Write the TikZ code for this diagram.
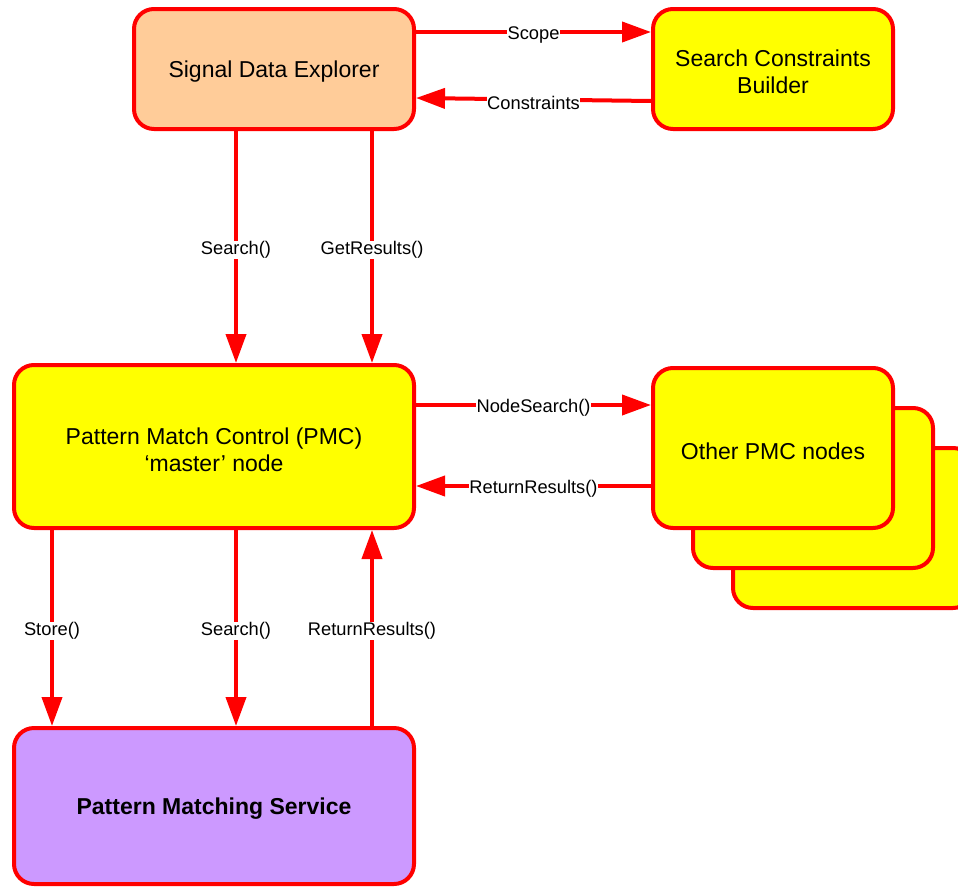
\documentclass[tikz,border=0pt]{standalone}
\usepackage{fontspec}
\setmainfont{Liberation Sans}
\usetikzlibrary{arrows.meta}
\definecolor{linered}{HTML}{FF0000}
\definecolor{peach}{HTML}{FFCC99}
\definecolor{boxyellow}{HTML}{FFFF00}
\definecolor{lilac}{HTML}{CC99FF}
\begin{document}
\begin{tikzpicture}[x=1pt,y=-1pt,
  box/.style={draw=linered, line width=4pt, rounded corners=20pt, inner sep=0pt},
  boxtext/.style={align=center, inner sep=0pt, font=\fontsize{23}{27}\selectfont},
  flow/.style={draw=linered, line width=4pt, -{Triangle[length=29pt,width=20pt]}},
  lbl/.style={fill=white, inner sep=0.6pt, yshift=-3pt, text=black, font=\fontsize{18.3}{20}\selectfont}]
\clip (0,0) rectangle (958,886);
\useasboundingbox (0,0) rectangle (958,886);

% top row
\node[box, fill=peach, minimum width=280pt, minimum height=120pt] (sde) at (274,69) {};
\node[boxtext] (sdet) at ([yshift=-3pt]sde.center) {Signal Data Explorer};
\node[box, fill=boxyellow, minimum width=240pt, minimum height=120pt] (scb) at (773,69) {};
\node[boxtext] (scbt) at ([yshift=-3pt]scb.center) {Search Constraints\\Builder};

% control node
\node[box, fill=boxyellow, minimum width=400pt, minimum height=163pt] (pmc) at (214,446.5) {};
\node[boxtext] (pmct) at ([yshift=-3pt]pmc.center) {Pattern Match Control (PMC)\\`master' node};

% stack of other PMC nodes, back to front
\node[box, fill=boxyellow, minimum width=240pt, minimum height=160pt] (oth3) at (853,528) {};
\node[box, fill=boxyellow, minimum width=240pt, minimum height=160pt] (oth2) at (813,488) {};
\node[box, fill=boxyellow, minimum width=240pt, minimum height=160pt] (oth) at (773,448) {};
\node[boxtext] (otht) at ([yshift=-3pt]oth.center) {Other PMC nodes};

% storage service
\node[box, fill=lilac, minimum width=400pt, minimum height=156pt] (pms) at (214,806) {};
\node[boxtext, font=\fontsize{23}{27}\selectfont\bfseries] (pmst) at ([yshift=-3pt]pms.center) {Pattern Matching Service};

% explorer <-> constraints builder
\draw[flow] ([yshift=-25pt]sde.north east) -- node[lbl]{Scope} ([yshift=-25pt]scb.north west);
\draw[flow] ([yshift=-94pt]scb.north west) -- node[lbl]{Constraints} ([yshift=-91pt]sde.north east);

% explorer -> control
\draw[flow] ([xshift=104pt]sde.south west) -- node[lbl]{Search()} ([xshift=224pt]pmc.north west);
\draw[flow] ([xshift=240pt]sde.south west) -- node[lbl]{GetResults()} ([xshift=360pt]pmc.north west);

% control <-> other nodes
\draw[flow] ([yshift=-42pt]pmc.north east) -- node[lbl]{NodeSearch()} ([yshift=-39pt]oth.north west);
\draw[flow] ([yshift=-120pt]oth.north west) -- node[lbl]{ReturnResults()} ([yshift=-123pt]pmc.north east);

% control <-> matching service
\draw[flow] ([xshift=40pt]pmc.south west) -- node[lbl]{Store()} ([xshift=40pt]pms.north west);
\draw[flow] ([xshift=224pt]pmc.south west) -- node[lbl]{Search()} ([xshift=224pt]pms.north west);
\draw[flow] ([xshift=360pt]pms.north west) -- node[lbl]{ReturnResults()} ([xshift=360pt]pmc.south west);
\end{tikzpicture}
\end{document}
